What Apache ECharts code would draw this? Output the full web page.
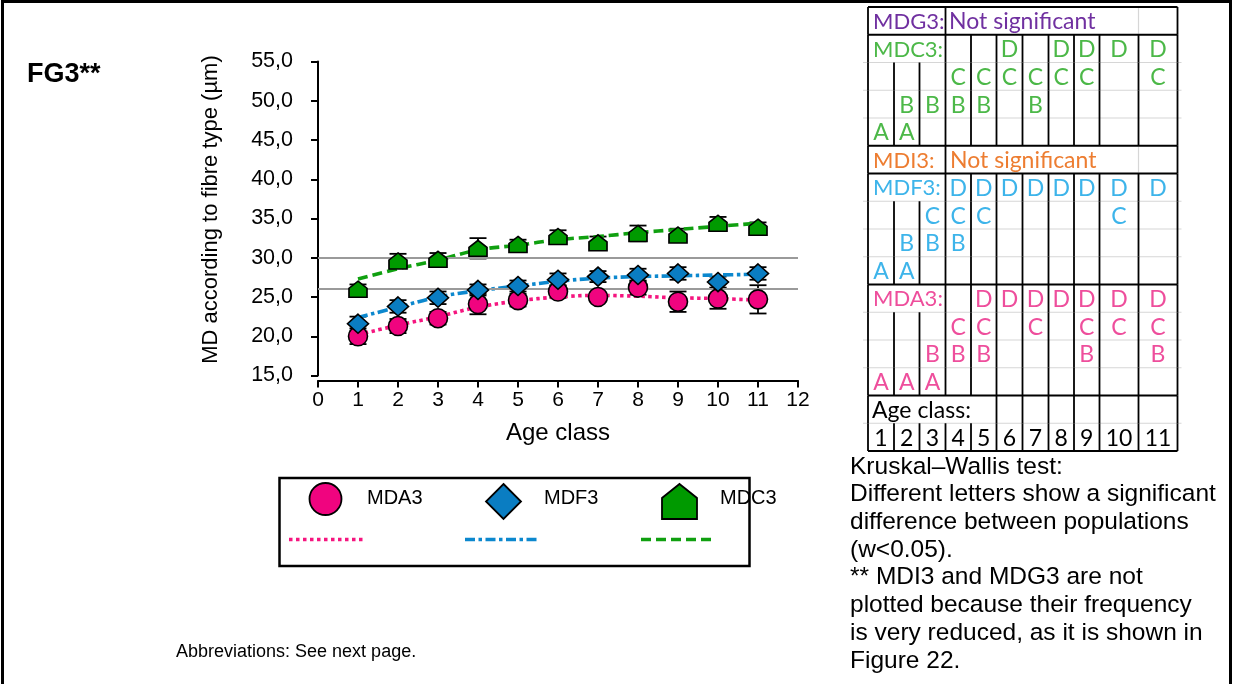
<!DOCTYPE html>
<html>
<head>
<meta charset="utf-8">
<script src="https://cdn.jsdelivr.net/npm/echarts@6/dist/echarts.min.js"></script>
<style>
html,body{margin:0;padding:0;background:#fff;}
#c{width:1234px;height:684px;}
</style>
</head>
<body>
<div id="c"></div>
<script>
// ---------------- data ----------------
const ageClasses = [1, 2, 3, 4, 5, 6, 7, 8, 9, 10, 11];
const xTicks = [0, 1, 2, 3, 4, 5, 6, 7, 8, 9, 10, 11, 12];

const mda3Mean  = [20.0, 21.3, 22.3, 24.1, 24.6, 25.7, 25.0, 26.2, 24.4, 24.8, 24.7];
const mda3Err   = [1.0, 0.9, 0.8, 1.3, 0.8, 0.8, 0.6, 0.9, 1.3, 1.3, 1.8];
const mda3Trend = [20.2, 21.4, 22.5, 23.7, 24.5, 25.0, 25.2, 25.1, 24.9, 24.8, 24.6];

const mdf3Mean  = [21.6, 23.8, 24.9, 25.9, 26.4, 27.2, 27.6, 27.8, 28.0, 26.9, 28.0];
const mdf3Err   = [0.9, 0.8, 0.8, 0.7, 0.7, 0.8, 0.7, 0.8, 0.8, 0.7, 0.8];
const mdf3Trend = [22.4, 23.7, 25.0, 25.8, 26.4, 27.0, 27.4, 27.6, 27.7, 27.8, 27.9];

const mdc3Mean  = [26.0, 29.6, 29.8, 31.2, 31.7, 32.7, 31.9, 33.1, 32.9, 34.4, 33.9];
const mdc3Err   = [0.6, 0.9, 0.8, 1.3, 0.6, 0.8, 0.8, 1.0, 0.8, 0.8, 0.6];
const mdc3Trend = [27.3, 28.6, 29.7, 31.0, 31.6, 32.3, 32.7, 33.2, 33.6, 34.0, 34.4];

const refLines = [30.0, 26.1];

const seriesNames = ['MDA3', 'MDF3', 'MDC3'];

// Kruskal-Wallis letters per age class
const mdc3Letters = ['A', 'AB', 'B', 'BC', 'BC', 'CD', 'BC', 'CD', 'CD', 'D', 'CD'];
const mdf3Letters = ['A', 'AB', 'BC', 'BCD', 'CD', 'D', 'D', 'D', 'D', 'CD', 'D'];
const mda3Letters = ['A', 'A', 'AB', 'BC', 'BCD', 'D', 'CD', 'D', 'BCD', 'CD', 'BCD'];

const notes = [
  'Kruskal\u2013Wallis test:',
  'Different letters show a significant',
  'difference between populations',
  '(w<0.05).',
  '** MDI3 and MDG3 are not',
  'plotted because their frequency',
  'is very reduced, as it is shown in',
  'Figure 22.'
];

// ---------------- styles ----------------
const AX = 'Liberation Sans, Arial, sans-serif';
const TF = 'Lato, Noto Sans, sans-serif';
const C = {
  pinkM: '#F0047F', blueM: '#0A7DC2', greenM: '#009A00',
  pinkL: '#F5157F', blueL: '#0C88CE', greenL: '#10A010',
  tPurple: '#7030A0', tGreen: '#4CB848', tOrange: '#ED7D31', tBlue: '#3DB4EA', tPink: '#EE4E9C'
};
const housePath = 'path://M10,0 L20,8 L20,18 L0,18 L0,8 Z';
const diamondPath = 'path://M10,0 L20,10 L10,20 L0,10 Z';

function errData(mean, err) {
  return ageClasses.map((x, i) => [x, mean[i] - err[i], mean[i] + err[i]]);
}
function pts(arr) { return ageClasses.map((x, i) => [x, arr[i]]); }

function errSeries(mean, err) {
  return {
    type: 'custom',
    z: 2,
    silent: true,
    data: errData(mean, err),
    renderItem: function (params, api) {
      const x = api.value(0);
      const lo = api.coord([x, api.value(1)]);
      const hi = api.coord([x, api.value(2)]);
      const hw = 8.5;
      const st = { stroke: '#000', lineWidth: 1.8 };
      return {
        type: 'group',
        children: [
          { type: 'line', shape: { x1: lo[0], y1: lo[1], x2: hi[0], y2: hi[1] }, style: st },
          { type: 'line', shape: { x1: lo[0] - hw, y1: lo[1], x2: lo[0] + hw, y2: lo[1] }, style: st },
          { type: 'line', shape: { x1: hi[0] - hw, y1: hi[1], x2: hi[0] + hw, y2: hi[1] }, style: st }
        ]
      };
    }
  };
}
function trendSeries(arr, color, dash) {
  return {
    type: 'line', z: 3, silent: true, smooth: 0.4, symbol: 'none',
    data: pts(arr),
    lineStyle: { color: color, width: 3.6, type: dash, cap: 'butt' }
  };
}
function markerSeries(name, arr, symbol, size, color, z) {
  return {
    name: name, type: 'scatter', z: z, symbol: symbol, symbolSize: size, symbolKeepAspect: false,
    data: pts(arr),
    itemStyle: { color: color, borderColor: '#000', borderWidth: 1.6, opacity: 1 }
  };
}

// ---------------- table graphics ----------------
const colX = [868, 894, 919.5, 945.5, 971, 996.5, 1022.5, 1048.5, 1074, 1099.5, 1138.5, 1177.5];
const rowTop = 7, rowH = 27.75, nRows = 16;
function rY(i) { return rowTop + rowH * i; }
const g = [];
const GRAY = '#d6d6d6';
// horizontal lines
const blackRows = [0, 1, 5, 6, 10, 14, 16];
for (let i = 0; i <= nRows; i++) {
  const black = blackRows.indexOf(i) >= 0;
  g.push({ type: 'line', z: black ? 11 : 10, shape: { x1: colX[0] - (black ? 0 : 5), y1: rY(i), x2: colX[11] + (black ? 0 : 4), y2: rY(i) },
    style: { stroke: black ? '#000' : GRAY, lineWidth: black ? 2 : 1.2 } });
}
// vertical lines
function rowType(r) {
  if (r === 0 || r === 5) return 'ns';
  if (r === 1 || r === 6 || r === 10) return 'head';
  if (r === 14) return 'age';
  return 'all';
}
for (let r = 0; r < nRows; r++) {
  const t = rowType(r);
  for (let b = 0; b <= 11; b++) {
    let draw = false, col = '#000';
    if (b === 0 || b === 11) draw = true;
    else if (t === 'all') draw = true;
    else if (t === 'head') draw = b >= 3;
    else if (t === 'age') draw = b >= 5;
    else if (t === 'ns') { if (b === 3) draw = true; if (b === 10) { draw = true; col = GRAY; } }
    if (draw) g.push({ type: 'line', z: col === '#000' ? 11 : 10, shape: { x1: colX[b], y1: rY(r) + (col === '#000' ? 0 : 1), x2: colX[b], y2: rY(r + 1) - (col === '#000' ? 0 : 1) },
      style: { stroke: col, lineWidth: col === '#000' ? 1.8 : 1.2 } });
  }
}
function tText(txt, x, row, color, align, size) {
  g.push({ type: 'text', z: 12, x: x, y: rY(row) + rowH / 2 + 1,
    style: { text: txt, fill: color, font: (size || 22) + 'px ' + TF, textAlign: align || 'left', textVerticalAlign: 'middle' } });
}
tText('MDG3:', 873, 0, C.tPurple);
tText('Not significant', 949, 0, C.tPurple, 'left', 23);
tText('MDC3:', 873, 1, C.tGreen);
tText('MDI3:', 873, 5, C.tOrange);
tText('Not significant', 950, 5, C.tOrange, 'left', 23);
tText('MDF3:', 873, 6, C.tBlue);
tText('MDA3:', 873, 10, C.tPink);
tText('Age class:', 872, 14, '#000', 'left', 23);
const groups = [[mdc3Letters, 1, C.tGreen], [mdf3Letters, 6, C.tBlue], [mda3Letters, 10, C.tPink]];
const letterRow = { D: 0, C: 1, B: 2, A: 3 };
groups.forEach(function (gr) {
  gr[0].forEach(function (s, k) {
    const cx = (colX[k] + colX[k + 1]) / 2;
    s.split('').forEach(function (ch) { tText(ch, cx, gr[1] + letterRow[ch], gr[2], 'center', 23); });
  });
});
ageClasses.forEach(function (a, k) { tText(String(a), (colX[k] + colX[k + 1]) / 2, 15, '#000', 'center', 23); });

// notes
g.push({ type: 'text', z: 12, x: 850, y: 453,
  style: { text: notes.join('\n'), fill: '#000', font: '24.5px ' + AX, lineHeight: 27.7, textVerticalAlign: 'top' } });
// other text
g.push({ type: 'text', z: 12, x: 27, y: 75, style: { text: 'FG3**', fill: '#000', font: 'bold 27px ' + AX, textVerticalAlign: 'middle' } });
g.push({ type: 'text', z: 12, x: 176, y: 652, style: { text: 'Abbreviations: See next page.', fill: '#000', font: '18px ' + AX, textVerticalAlign: 'middle' } });
// outer frame
g.push({ type: 'rect', z: 0, shape: { x: 2.5, y: 1.5, width: 1228, height: 800 }, style: { fill: 'none', stroke: '#000', lineWidth: 3 } });

// legend box
g.push({ type: 'rect', z: 12, shape: { x: 279.5, y: 478, width: 470, height: 88 }, style: { fill: '#fff', stroke: '#000', lineWidth: 2.5 } });
const legendItems = [
  { x: 325.5, sym: 'circle', color: C.pinkM, line: C.pinkL, dash: [3.5, 3.5], lx: 289, tx: 367 },
  { x: 503.5, sym: 'diamond', color: C.blueM, line: C.blueL, dash: [10, 3.5, 3.5, 3.5], lx: 465, tx: 544 },
  { x: 679.5, sym: 'house', color: C.greenM, line: C.greenL, dash: [10, 5], lx: 641, tx: 720 }
];
legendItems.forEach(function (it, i) {
  let shape;
  if (it.sym === 'circle') shape = { type: 'circle', shape: { cx: it.x, cy: 499, r: 16 } };
  else if (it.sym === 'diamond') shape = { type: 'polygon', shape: { points: [[it.x, 484], [it.x + 17.5, 501.5], [it.x, 519], [it.x - 17.5, 501.5]] } };
  else shape = { type: 'polygon', shape: { points: [[it.x, 484], [it.x + 17.5, 498], [it.x + 17.5, 519], [it.x - 17.5, 519], [it.x - 17.5, 498]] } };
  shape.z = 13;
  shape.style = { fill: it.color, stroke: '#000', lineWidth: 1.8 };
  g.push(shape);
  g.push({ type: 'text', z: 13, x: it.tx, y: 498, style: { text: seriesNames[i], fill: '#000', font: '20px ' + AX, textVerticalAlign: 'middle' } });
  g.push({ type: 'line', z: 13, shape: { x1: it.lx, y1: 539.5, x2: it.lx + 75, y2: 539.5 },
    style: { stroke: it.line, lineWidth: 3.5, lineDash: it.dash } });
});

// ---------------- chart ----------------
const chart = echarts.init(document.getElementById('c'), null, { renderer: 'canvas' });
chart.setOption({
  backgroundColor: '#fff',
  animation: false,
  grid: { left: 318, right: 436, top: 61.5, bottom: 308.5, containLabel: false },
  xAxis: {
    type: 'value', min: 0, max: 12, interval: 1, offset: 5,
    name: 'Age class', nameLocation: 'middle', nameGap: 41,
    nameTextStyle: { fontFamily: AX, fontSize: 24, color: '#000' },
    axisLine: { lineStyle: { color: '#000', width: 2 } },
    axisTick: { show: true, length: 7, lineStyle: { color: '#000', width: 2 } },
    axisLabel: { fontFamily: AX, fontSize: 21, color: '#000', margin: 9,
      formatter: function (v) { return xTicks.indexOf(v) >= 0 ? String(v) : ''; } },
    splitLine: { show: false }
  },
  yAxis: {
    type: 'value', min: 15, max: 55, interval: 5, offset: 13,
    name: 'MD according to fibre type (\u00b5m)', nameLocation: 'middle', nameGap: 83, nameRotate: 90,
    nameTextStyle: { fontFamily: AX, fontSize: 22, color: '#000', padding: [0, 0, 0, 18] },
    axisLine: { show: true, lineStyle: { color: '#000', width: 2 } },
    axisTick: { show: true, length: 7, lineStyle: { color: '#000', width: 2 } },
    axisLabel: { fontFamily: AX, fontSize: 21.5, color: '#000', margin: 12,
      formatter: function (v) { return v.toFixed(1).replace('.', ','); } },
    splitLine: { show: false }
  },
  graphic: { elements: g },
  series: [
    {
      type: 'line', data: [], silent: true,
      markLine: {
        silent: true, symbol: 'none', label: { show: false },
        lineStyle: { color: '#9a9a9a', width: 2, type: 'solid' },
        data: refLines.map(function (v) { return { yAxis: v }; })
      }
    },
    errSeries(mda3Mean, mda3Err),
    errSeries(mdf3Mean, mdf3Err),
    errSeries(mdc3Mean, mdc3Err),
    trendSeries(mda3Trend, C.pinkL, [3.5, 3.5]),
    trendSeries(mdf3Trend, C.blueL, [10, 3.5, 3.5, 3.5]),
    trendSeries(mdc3Trend, C.greenL, [10, 5]),
    markerSeries('MDA3', mda3Mean, 'circle', 19, C.pinkM, 5),
    markerSeries('MDF3', mdf3Mean, diamondPath, [21, 19], C.blueM, 6),
    markerSeries('MDC3', mdc3Mean, housePath, [18, 16], C.greenM, 7)
  ]
});
</script>
</body>
</html>
